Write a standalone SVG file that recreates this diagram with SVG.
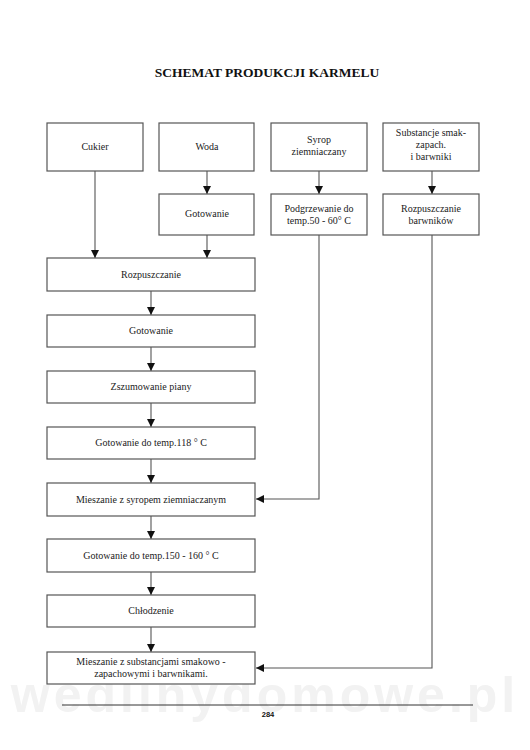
<svg xmlns="http://www.w3.org/2000/svg" width="530" height="750" viewBox="0 0 530 750">
<style>
.box{fill:#fff;stroke:#555;stroke-width:1.2}
.t{font-family:"Liberation Serif",serif;font-size:10px;fill:#222;text-anchor:middle}
.c{fill:none;stroke:#555;stroke-width:1.1}
</style>
<defs>
<marker id="ah" markerWidth="8" markerHeight="8" viewBox="0 0 8 8" refX="8" refY="4" orient="auto" markerUnits="userSpaceOnUse">
<path d="M0,0 L8,4 L0,8 Z" fill="#111"/>
</marker>
</defs>
<rect width="530" height="750" fill="#fff"/>
<text x="265" y="712" font-family="'Liberation Sans',sans-serif" font-weight="bold" font-size="50" fill="#f2f2f2" text-anchor="middle" letter-spacing="4">wedlinydomowe.pl</text>
<text x="267" y="77" font-family="'Liberation Serif',serif" font-weight="bold" font-size="13.5" fill="#111" text-anchor="middle">SCHEMAT PRODUKCJI KARMELU</text>
<g id="connectors">
<line class="c" x1="95" y1="171" x2="95" y2="258" marker-end="url(#ah)"/>
<line class="c" x1="207" y1="171" x2="207" y2="194" marker-end="url(#ah)"/>
<line class="c" x1="207" y1="235" x2="207" y2="258" marker-end="url(#ah)"/>
<line class="c" x1="319" y1="171" x2="319" y2="194" marker-end="url(#ah)"/>
<line class="c" x1="432" y1="171" x2="432" y2="194" marker-end="url(#ah)"/>
<line class="c" x1="151" y1="291" x2="151" y2="315" marker-end="url(#ah)"/>
<line class="c" x1="151" y1="347" x2="151" y2="371" marker-end="url(#ah)"/>
<line class="c" x1="151" y1="403" x2="151" y2="427" marker-end="url(#ah)"/>
<line class="c" x1="151" y1="459" x2="151" y2="483" marker-end="url(#ah)"/>
<line class="c" x1="151" y1="516" x2="151" y2="539" marker-end="url(#ah)"/>
<line class="c" x1="151" y1="572" x2="151" y2="595" marker-end="url(#ah)"/>
<line class="c" x1="151" y1="627" x2="151" y2="652" marker-end="url(#ah)"/>
<polyline class="c" points="319,235 319,499 256,499" marker-end="url(#ah)"/>
<polyline class="c" points="432,235 432,668 256,668" marker-end="url(#ah)"/>
</g>
<g id="cukier"><rect class="box" x="47" y="123" width="96" height="48"/><text class="t" x="95" y="150">Cukier</text></g>
<g id="woda"><rect class="box" x="159" y="123" width="95" height="48"/><text class="t" x="207" y="150">Woda</text></g>
<g id="syrop"><rect class="box" x="271" y="123" width="96" height="48"/><text class="t" x="319" y="143">Syrop</text><text class="t" x="319" y="155">ziemniaczany</text></g>
<g id="substancje"><rect class="box" x="383" y="123" width="96" height="48"/><text class="t" x="431" y="136">Substancje smak-</text><text class="t" x="431" y="148">zapach.</text><text class="t" x="431" y="160">i barwniki</text></g>
<g id="gotowanie1"><rect class="box" x="159" y="194" width="95" height="41"/><text class="t" x="207" y="217">Gotowanie</text></g>
<g id="podgrzewanie"><rect class="box" x="271" y="194" width="96" height="41"/><text class="t" x="319" y="212">Podgrzewanie do</text><text class="t" x="319" y="224">temp.50 - 60° C</text></g>
<g id="rozpbarw"><rect class="box" x="383" y="194" width="96" height="41"/><text class="t" x="431" y="212">Rozpuszczanie</text><text class="t" x="431" y="224">barwników</text></g>
<g id="rozpuszczanie"><rect class="box" x="47" y="258" width="208" height="33"/><text class="t" x="151" y="278">Rozpuszczanie</text></g>
<g id="gotowanie2"><rect class="box" x="47" y="315" width="208" height="32"/><text class="t" x="151" y="334">Gotowanie</text></g>
<g id="zszumowanie"><rect class="box" x="47" y="371" width="208" height="32"/><text class="t" x="151" y="390">Zszumowanie piany</text></g>
<g id="gotowanie118"><rect class="box" x="47" y="427" width="208" height="32"/><text class="t" x="151" y="446">Gotowanie do temp.118 ° C</text></g>
<g id="mieszanie1"><rect class="box" x="47" y="483" width="208" height="33"/><text class="t" x="151" y="503">Mieszanie z syropem ziemniaczanym</text></g>
<g id="gotowanie150"><rect class="box" x="47" y="539" width="208" height="33"/><text class="t" x="151" y="559">Gotowanie do temp.150 - 160 ° C</text></g>
<g id="chlodzenie"><rect class="box" x="47" y="595" width="208" height="32"/><text class="t" x="151" y="614">Chłodzenie</text></g>
<g id="mieszanie2"><rect class="box" x="47" y="652" width="208" height="32"/><text class="t" x="151" y="665">Mieszanie z substancjami smakowo -</text><text class="t" x="151" y="677">zapachowymi i barwnikami.</text></g>
<line x1="62" y1="705" x2="473" y2="705" stroke="#333" stroke-width="1"/>
<text x="268" y="717" font-family="'Liberation Sans',sans-serif" font-weight="bold" font-size="7.5" fill="#111" text-anchor="middle">284</text>
</svg>
